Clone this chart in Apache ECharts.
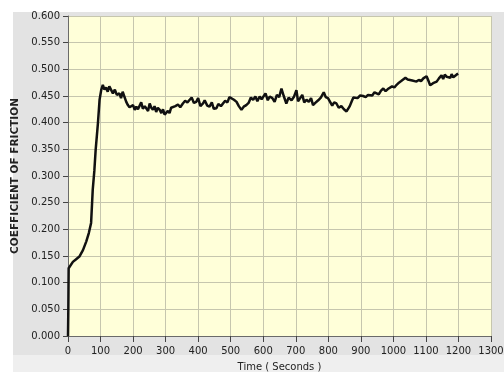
<!DOCTYPE html>
<html><head><meta charset="utf-8">
<script src="https://cdn.jsdelivr.net/npm/echarts@6/dist/echarts.min.js"></script>
<style>html,body{margin:0;padding:0;background:#fff}#c{width:504px;height:372px}</style>
</head><body><div id="c"></div>
<script>
var timeSec = [0,1,2,5,15,25,35,46,56,64,71,76,81,85,92,97,102,107,112,117,122,127,133,138,144,150,158,163,168,174,179,184,189,194,200,205,210,215,220,225,230,236,241,246,251,256,261,266,271,276,282,287,292,297,302,307,312,317,322,330,338,345,353,360,367,374,380,387,394,400,407,415,420,428,435,442,448,456,462,470,476,483,490,496,502,510,518,525,533,540,548,555,562,569,576,582,589,595,600,607,614,620,628,635,642,649,656,663,671,678,687,694,702,707,712,720,726,733,740,747,753,760,769,777,786,792,799,805,812,818,825,832,840,848,856,861,866,872,877,882,890,898,907,915,922,928,935,942,948,955,962,969,976,983,989,996,1003,1010,1017,1024,1030,1037,1044,1051,1058,1064,1071,1078,1085,1092,1098,1102,1108,1113,1117,1122,1128,1133,1140,1148,1153,1158,1164,1170,1175,1179,1184,1189,1194,1199];
var cof = [0,0.05,0.127,0.130,0.139,0.144,0.149,0.161,0.177,0.193,0.212,0.274,0.31,0.349,0.399,0.443,0.461,0.471,0.462,0.466,0.458,0.468,0.467,0.455,0.462,0.452,0.455,0.446,0.458,0.455,0.439,0.433,0.429,0.427,0.433,0.424,0.430,0.425,0.427,0.438,0.426,0.431,0.433,0.422,0.436,0.428,0.424,0.431,0.420,0.428,0.424,0.418,0.425,0.415,0.414,0.422,0.418,0.428,0.427,0.431,0.434,0.429,0.436,0.441,0.438,0.443,0.447,0.437,0.439,0.446,0.431,0.436,0.442,0.432,0.430,0.438,0.426,0.427,0.435,0.431,0.433,0.441,0.438,0.448,0.446,0.443,0.439,0.431,0.424,0.430,0.433,0.437,0.447,0.443,0.449,0.440,0.449,0.444,0.446,0.455,0.442,0.449,0.446,0.439,0.452,0.448,0.464,0.450,0.436,0.447,0.442,0.448,0.461,0.440,0.443,0.452,0.438,0.443,0.439,0.446,0.433,0.437,0.442,0.447,0.457,0.448,0.446,0.443,0.432,0.438,0.436,0.428,0.431,0.425,0.421,0.424,0.431,0.440,0.447,0.449,0.446,0.451,0.450,0.448,0.452,0.449,0.451,0.457,0.455,0.453,0.460,0.464,0.459,0.463,0.462,0.468,0.466,0.471,0.475,0.478,0.480,0.484,0.481,0.480,0.479,0.476,0.477,0.480,0.478,0.483,0.486,0.487,0.478,0.470,0.467,0.474,0.472,0.477,0.483,0.489,0.482,0.490,0.486,0.488,0.484,0.491,0.485,0.488,0.490,0.492];
var xTicks = [0,100,200,300,400,500,600,700,800,900,1000,1100,1200,1300];
var yTicks = [0,0.05,0.1,0.15,0.2,0.25,0.3,0.35,0.4,0.45,0.5,0.55,0.6];

var chart = echarts.init(document.getElementById('c'), null, {renderer:'canvas'});
var pts = timeSec.map(function(t,i){return [t,cof[i]];});
chart.setOption({
  animation:false,
  backgroundColor:'#ffffff',
  graphic:[
    {type:'rect',z:-10,shape:{x:13,y:12,width:491,height:343},style:{fill:'#e3e3e3'}},
    {type:'rect',z:-10,shape:{x:13,y:355,width:491,height:17},style:{fill:'#efefef'}}
  ],
  grid:{left:68,right:13,top:16,bottom:36,show:true,backgroundColor:'#ffffd9',borderWidth:0,
    containLabel:false,outerBoundsMode:'none'},
  xAxis:{type:'value',min:xTicks[0],max:xTicks[xTicks.length-1],interval:100,
    name:'Time ( Seconds )',nameLocation:'middle',nameGap:26,
    nameTextStyle:{fontFamily:'DejaVu Sans',fontSize:10,color:'#222'},
    axisLine:{show:true,lineStyle:{color:'#6a6a6a',width:1}},
    axisTick:{show:true,length:6,lineStyle:{color:'#444'}},
    axisLabel:{fontFamily:'DejaVu Sans',fontSize:10,color:'#222',margin:10,
      formatter:function(v){return String(v);}},
    splitLine:{show:true,lineStyle:{color:'#c6c6ae',width:1}}},
  yAxis:{type:'value',min:yTicks[0],max:yTicks[yTicks.length-1],interval:0.05,
    name:'COEFFICIENT OF FRICTION',nameLocation:'middle',nameGap:40,nameRotate:90,
    nameTextStyle:{fontFamily:'DejaVu Sans',fontWeight:'bold',fontSize:10.5,color:'#222'},
    axisLine:{show:true,lineStyle:{color:'#6a6a6a',width:1}},
    axisTick:{show:true,length:5,lineStyle:{color:'#444'}},
    axisLabel:{fontFamily:'DejaVu Sans',fontSize:10,color:'#222',margin:8,
      formatter:function(v){return v.toFixed(3);}},
    splitLine:{show:true,lineStyle:{color:'#c6c6ae',width:1}}},
  series:[{type:'line',data:pts,showSymbol:false,symbol:'none',
    lineStyle:{color:'#111',width:2.5},clip:true}]
});
</script></body></html>
